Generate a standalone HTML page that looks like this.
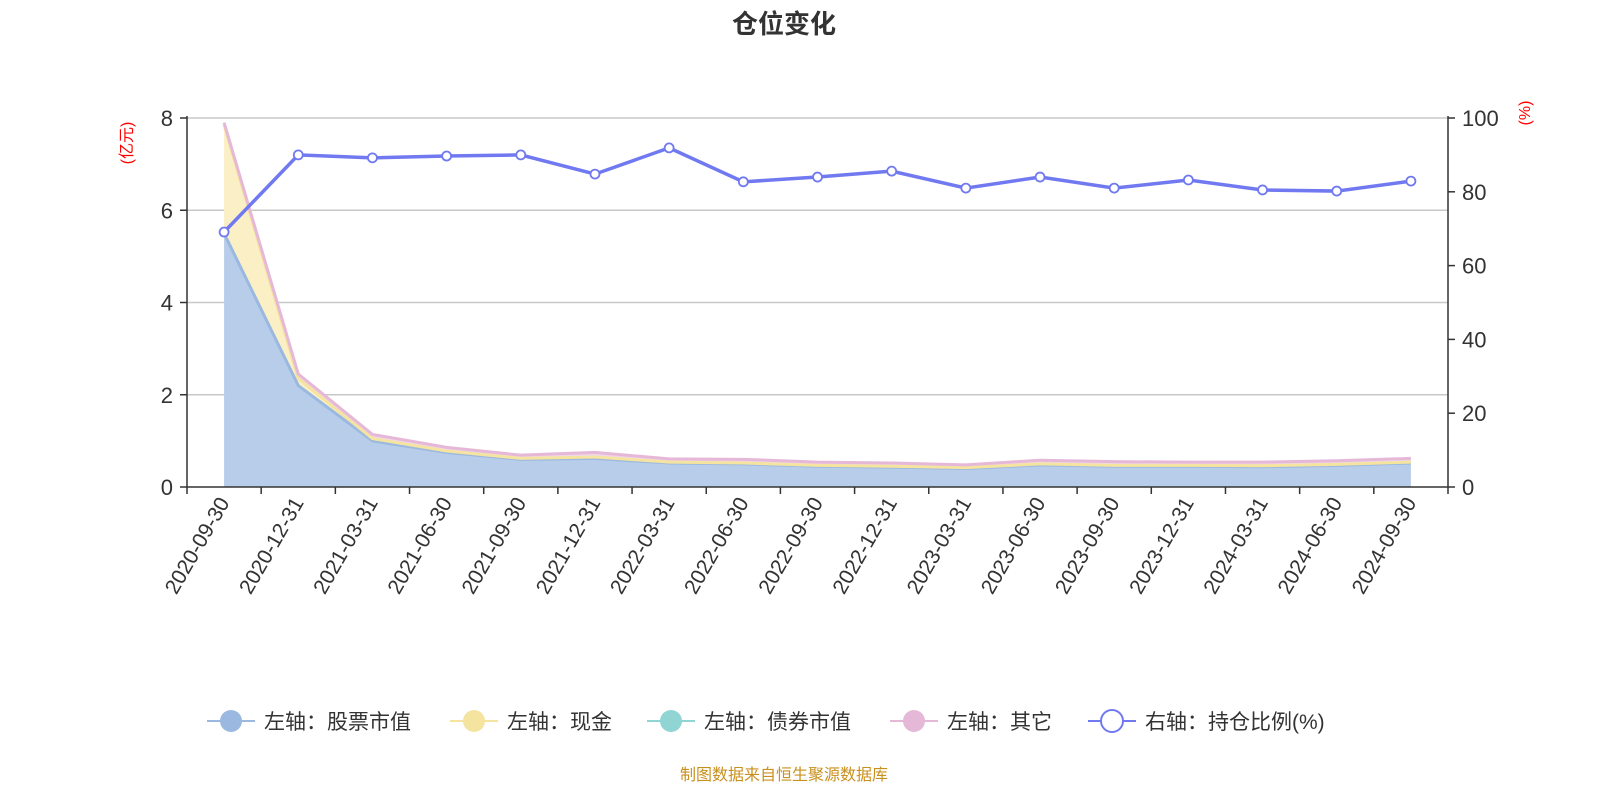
<!DOCTYPE html>
<html><head><meta charset="utf-8"><style>
body{margin:0;background:#fff;}
svg text{font-family:"Liberation Sans","Noto Sans CJK SC",sans-serif;}
</style></head><body>
<svg id="c" width="1600" height="800" viewBox="0 0 1600 800" xmlns="http://www.w3.org/2000/svg">
<text x="784" y="33" text-anchor="middle" font-size="26" font-weight="bold" fill="#333">仓位变化</text>
<g id="plot"></g>
<text x="784" y="780" text-anchor="middle" font-size="16" fill="#c8901e">制图数据来自恒生聚源数据库</text>
</svg>
<script>
const categories=["2020-09-30","2020-12-31","2021-03-31","2021-06-30","2021-09-30","2021-12-31","2022-03-31","2022-06-30","2022-09-30","2022-12-31","2023-03-31","2023-06-30","2023-09-30","2023-12-31","2024-03-31","2024-06-30","2024-09-30"];
const stockValues=[5.5,2.2,1.0,0.75,0.6,0.62,0.52,0.5,0.45,0.43,0.4,0.48,0.45,0.45,0.44,0.47,0.52];
const cashValues=[2.35,0.15,0.05,0.03,0.02,0.03,0.02,0.02,0.02,0.02,0.02,0.02,0.02,0.02,0.02,0.02,0.02];
const bondValues=[0,0,0,0,0,0,0,0,0,0,0,0,0,0,0,0,0];
const otherValues=[0.05,0.1,0.09,0.08,0.07,0.1,0.07,0.08,0.07,0.07,0.06,0.08,0.08,0.07,0.08,0.08,0.08];
const ratioValues=[69.1,90,89.2,89.7,90,84.8,91.9,82.7,84,85.6,81,84,81,83.2,80.5,80.2,82.9];
const leftTicks=[0,2,4,6,8];
const rightTicks=[0,20,40,60,80,100];
const NS="http://www.w3.org/2000/svg";
const g=document.getElementById('plot');
const X0=187,X1=1448,Y0=487,Y1=118;
const band=(X1-X0)/categories.length;
const xPos=i=>X0+band*(i+0.5);
const yL=v=>Y0-(v/8)*(Y0-Y1);
const yR=v=>Y0-(v/100)*(Y0-Y1);
function mk(tag,attrs,name,txt){const e=document.createElementNS(NS,tag);for(const k in attrs)e.setAttribute(k,attrs[k]);


if(txt!==undefined)e.textContent=txt;g.appendChild(e);return e;}
leftTicks.forEach(t=>{const y=yL(t);
if(t>0)mk('line',{x1:X0,x2:X1,y1:y,y2:y,stroke:'#c8c8c8','stroke-width':1.5},'grid-line');
mk('line',{x1:X0-7,x2:X0,y1:y,y2:y,stroke:'#333','stroke-width':1.5},'left-tick');
mk('text',{x:X0-14,y:y+8,'text-anchor':'end','font-size':22,fill:'#333'},'left-tick-label',t);});
rightTicks.forEach(t=>{const y=yR(t);
mk('line',{x1:X1,x2:X1+7,y1:y,y2:y,stroke:'#333','stroke-width':1.5},'right-tick');
mk('text',{x:X1+14,y:y+8,'font-size':22,fill:'#333'},'right-tick-label',t);});
mk('text',{x:0,y:0,'font-size':16,fill:'red',transform:`translate(132,143) rotate(-90)`,'text-anchor':'middle'},'left-axis-unit','(亿元)');
mk('text',{x:0,y:0,'font-size':16,fill:'red',transform:`translate(1530,113) rotate(-90)`,'text-anchor':'middle'},'right-axis-unit','(%)');
const series=[[stockValues,'#b8cde9','#9ab8e0','stock-area'],[cashValues,'#fbefc6','#f5e3a0','cash-area'],[bondValues,'#c8ecec',null,'bond-area'],[otherValues,'#f0d6ea','#e6b8d8','other-area']];
let base=categories.map(()=>0);
series.forEach(([vals,fill,stroke,name])=>{
 const top=vals.map((v,i)=>base[i]+v);
 let d='';top.forEach((v,i)=>d+=(i?'L':'M')+xPos(i)+','+yL(v));
 for(let i=top.length-1;i>=0;i--)d+='L'+xPos(i)+','+yL(base[i]);
 mk('path',{d:d+'Z',fill:fill,stroke:'none'},name);
 base=top;});
base=categories.map(()=>0);
series.forEach(([vals,fill,stroke,name])=>{
 const top=vals.map((v,i)=>base[i]+v);
 if(stroke)mk('polyline',{points:top.map((v,i)=>xPos(i)+','+yL(v)).join(' '),fill:'none',stroke:stroke,'stroke-width':3},name+'-line');
 base=top;});
mk('line',{x1:X0,x2:X0,y1:Y1-2,y2:Y0,stroke:'#333','stroke-width':1.5},'left-axis');
mk('line',{x1:X1,x2:X1,y1:Y1-2,y2:Y0,stroke:'#333','stroke-width':1.5},'right-axis');
mk('line',{x1:X0,x2:X1,y1:Y0,y2:Y0,stroke:'#333','stroke-width':1.5},'x-axis');
for(let i=0;i<=categories.length;i++){const x=X0+band*i;mk('line',{x1:x,x2:x,y1:Y0,y2:Y0+7,stroke:'#333','stroke-width':1.5},'x-tick');}
categories.forEach((c,i)=>{const x=xPos(i),y=Y0+12;
mk('text',{x:x,y:y,'text-anchor':'end','font-size':21,fill:'#333',transform:`rotate(-60 ${x} ${y}) translate(0 7)`},'x-tick-label',c);});
mk('polyline',{points:ratioValues.map((v,i)=>xPos(i)+','+yR(v)).join(' '),fill:'none',stroke:'#7079f0','stroke-width':3.5},'ratio-line');
ratioValues.forEach((v,i)=>mk('circle',{cx:xPos(i),cy:yR(v),r:4.5,fill:'#fff',stroke:'#7079f0','stroke-width':1.8},'ratio-point'));
const legend=[['左轴：股票市值','#9ab8e0',true,207],['左轴：现金','#f5e3a0',true,450],['左轴：债券市值','#90d4d4',true,647],['左轴：其它','#e6b8d8',true,890],['右轴：持仓比例(%)','#7079f0',false,1088]];
legend.forEach(([t,c,f,x])=>{const y=721;
mk('line',{x1:x,x2:x+48,y1:y,y2:y,stroke:c,'stroke-width':2},'legend-line');
mk('circle',{cx:x+24,cy:y,r:11,fill:f?c:'#fff',stroke:c,'stroke-width':f?0:2},'legend-marker');
mk('text',{x:x+57,y:y+8,'font-size':21,fill:'#333'},'legend-entry',t);});
</script>
</body></html>
